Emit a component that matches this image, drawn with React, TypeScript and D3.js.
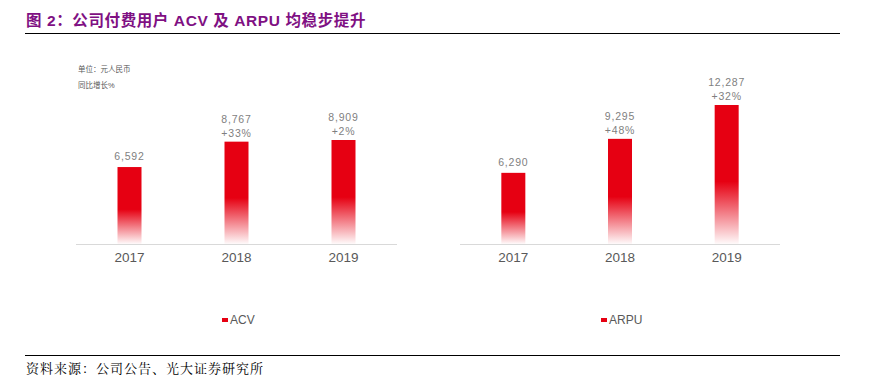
import React from 'react';
import * as d3 from 'd3';

const years = ['2017', '2018', '2019'];
const acv = [6592, 8767, 8909];
const acvGrowth = ['', '+33%', '+2%'];
const arpu = [6290, 9295, 12287];
const arpuGrowth = ['', '+48%', '+32%'];

const RED = '#e60012';
const fmt = d3.format(',');

interface PanelProps {
  values: number[];
  growth: string[];
  name: string;
  x0: number;
  x1: number;
  topY: number;
  legendX: number;
  gid: string;
}

function Panel({ values, growth, name, x0, x1, topY, legendX, gid }: PanelProps) {
  const base = 244;
  const x = d3.scaleBand().domain(years).range([x0, x1]).paddingInner(0.776).paddingOuter(0.388);
  const y = d3.scaleLinear().domain([0, d3.max(values) as number]).range([base, topY]);
  const bw = 24;
  return (
    <g>
      <defs>
        <linearGradient id={gid} x1="0" y1="0" x2="0" y2="1">
          <stop offset="0" stopColor={RED} />
          <stop offset="0.55" stopColor={RED} />
          <stop offset="1" stopColor={RED} stopOpacity={0.02} />
        </linearGradient>
      </defs>
      <line x1={x0} x2={x1} y1={base + 0.5} y2={base + 0.5} stroke="#d9d9d9" strokeWidth={1} />
      {years.map((yr, i) => {
        const cx = (x(yr) as number) + x.bandwidth() / 2;
        const top = y(values[i]);
        return (
          <g key={yr}>
            <rect x={cx - bw / 2} y={top} width={bw} height={base - top} fill={`url(#${gid})`} />
            {growth[i] ? (
              <>
                <text x={cx} y={top - 19} textAnchor="middle" fontSize={10.5} fill="#7f7f7f" letterSpacing={0.8}>
                  {fmt(values[i])}
                </text>
                <text x={cx} y={top - 5} textAnchor="middle" fontSize={10.5} fill="#7f7f7f" letterSpacing={0.8}>
                  {growth[i]}
                </text>
              </>
            ) : (
              <text x={cx} y={top - 7} textAnchor="middle" fontSize={10.5} fill="#7f7f7f" letterSpacing={0.8}>
                {fmt(values[i])}
              </text>
            )}
            <text x={cx} y={262} textAnchor="middle" fontSize={13.5} fill="#595959">
              {yr}
            </text>
          </g>
        );
      })}
      <rect x={legendX} y={318} width={6} height={4} fill={RED} />
      <text x={legendX + 8} y={324} fontSize={12} fill="#595959">
        {name}
      </text>
    </g>
  );
}

export default function App() {
  return (
    <svg width={882} height={392} style={{ position: 'absolute', left: 0, top: 0, background: '#fff' }}
      fontFamily="'Liberation Sans', Arial, 'Noto Sans CJK SC', sans-serif">
      <text x={26} y={26} fontSize={15.5} fontWeight="bold" fill="#7f1083" letterSpacing={0.6}
        fontFamily="'Liberation Sans', Arial, 'Noto Sans CJK SC', sans-serif">
        图 2：公司付费用户 ACV 及 ARPU 均稳步提升
      </text>
      <line x1={25} x2={840} y1={33.5} y2={33.5} stroke="#000" strokeWidth={1.2} />
      <text x={78} y={72} fontSize={7.5} fill="#595959">单位：元人民币</text>
      <text x={78} y={88} fontSize={7.5} fill="#595959">同比增长%</text>
      <Panel values={acv} growth={acvGrowth} name="ACV" x0={76} x1={397} topY={140} legendX={222} gid="gAcv" />
      <Panel values={arpu} growth={arpuGrowth} name="ARPU" x0={460} x1={780} topY={105} legendX={601} gid="gArpu" />
      <line x1={25} x2={840} y1={355.5} y2={355.5} stroke="#000" strokeWidth={1.2} />
      <text x={26} y={373} fontSize={13} fill="#000" letterSpacing={1}
        fontFamily="'Noto Serif CJK SC', 'Noto Sans CJK SC', serif">
        资料来源：公司公告、光大证券研究所
      </text>
    </svg>
  );
}
